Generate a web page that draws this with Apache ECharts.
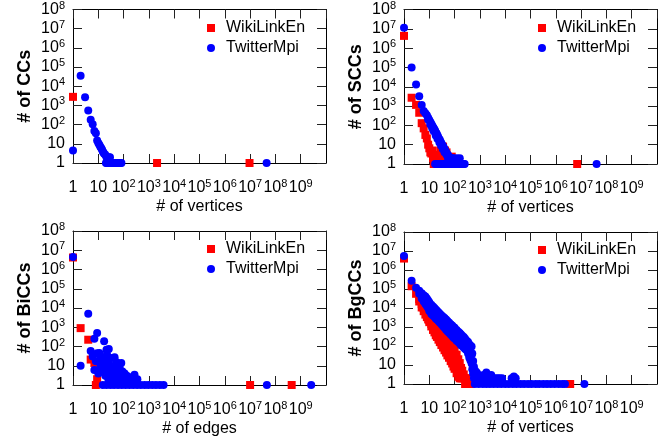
<!DOCTYPE html>
<html><head><meta charset="utf-8">
<script src="https://cdn.jsdelivr.net/npm/echarts@6/dist/echarts.min.js"></script>
<style>html,body{margin:0;padding:0;background:#fff}#c{width:670px;height:440px}</style>
</head><body><div id="c"></div>
<script>
// ---------- labels ----------
const seriesNames = ['WikiLinkEn', 'TwitterMpi'];
const xNames = ['# of vertices', '# of vertices', '# of edges', '# of vertices'];
const yNames = ['# of CCs', '# of SCCs', '# of BiCCs', '# of BgCCs'];
const xRange = [1, 1e10];
const yRange = [1, 1e8];

// ---------- panel 1: CCs ----------
const ccWiki = [[1,2800],[2100,1],[9.5e6,1]];
const ccTwitter = [[1,4.5],[2,35000],[3,2700],[4,550],[5,180],[6,106],[7,47],[8,35],[9,15],[10,11],[11,9],[12,7],[13,6],[14,5],[15,4],[16,3.5],[17,3],[19,2.7],[21,2],[23,2],[26,2],[29,2],
  [20,1],[22,1],[24,1],[27,1],[30,1],[34,1],[38,1],[43,1],[50,1],[57,1],[65,1],[75,1],[82,1],[4.5e7,1]];

// ---------- panel 2: SCCs ----------
const sccWiki = [[1,4.3e6],[2,2700],[3,1150],[4,450],[5,130],[6,70],[7,32],[8,21],[9,10],[10,6.5],[11,4],[12,3.5],[13,5],[14,2],[15,1],[16,1],[18,2],[20,3],[22,1],[25,2],[27,5],[30,1],[35,8],[42,5],[48,4],[40,2],[50,1],[60,1],[77,2.4],[90,1],[110,1],[140,1],[180,1],[7e6,1]];
const sccTwitter = [[1,1.15e7],[2,1e5],[3,1.3e4],[4,3200],[5,1150],[6,550],[7,430],[8,330],[9,250],[10,190],[11,150],[12,120],[13,100],[14,83],[15,70],[16,62],[17,52],[18,44],[19,39],[20,35],[22,27],[24,21],[26,18],[28,14],[30,12],[32,10],[35,8.5],[38,6.8],[41,5.6],[45,4.5],[50,3.5],[56,2.8],[63,2.2],[70,2],[80,2],[90,2],[120,2],[160,2],
  [9,200],[11,110],[13,70],[15,50],[18,30],[21,20],[25,13],[29,9],[34,6],[40,4],[48,3],[55,2],
  [17,1],[19,1],[21,1],[24,1],[27,1],[30,1],[34,1],[38,1],[43,1],[48,1],[55,1],[62,1],[70,1],[80,1],[90,1],[100,1],[115,1],[130,1],[150,1],[170,1],[200,1],[230,1],[250,1],[4.1e7,1]];

// ---------- panel 3: BiCCs ----------
const biccWiki = [[1,4.2e6],[2,900],[4,225],[5,21],[7,14],[9,2],[8,1],[1e7,1],[4.4e8,1]];
const biccTwitter = [[1,4.5e6],[2,10],[4,5000],[5,58],[6,30],[7,250],[7,6],[8,17],[9,500],[9,45],[10,4],[11,46],[12,31],[12,8],[13,12],[14,20],[15,5],[16,10],[17,185],[18,14],[19,3],[20,8],[21,6],[21,68],[22,40],[23,4],[24,18],[25,2],[26,74],[27,12],[28,5],[30,3],[32,9],[33,6],[35,25],[36,2],[38,4],[40,7],[42,3],[44,28],[46,10],[48,2],[50,5],[53,15],[56,3],[60,8],[63,2],[66,4],[70,7.6],[75,3],[81,14],[85,2],[90,5],[95,3],[100,2],[110,4],[120,2],[130,3],[148,2.8],[160,2],[200,2],[270,3.4],[350,2],
  [15,1],[21,1],[30,1],[42,1],[60,1],[85,1],[120,1],[170,1],[240,1],[340,1],[480,1],[680,1],[950,1],[1350,1],[1900,1],[2700,1],[3800,1],[4.6e7,1],[2.6e9,1]];

// ---------- panel 4: BgCCs ----------
const bgWiki = [[1,4e6],[2,1.4e5],[3,5.6e4],[4,2.2e4],[4,3e4],[5,1.07e4],[5,1.6e4],[6,6800],[6,1e4],[7,4500],[7,7000],[8,3300],[8,5000],[9,2500],[9,3700],
  [10,1800],[10,2250],[10,2800],[12,1070],[12,1450],[12,2000],[14,700],[14,1000],[14,1500],[16,520],[16,800],[16,1260],[18,370],[18,600],[18,1000],
  [20,300],[20,500],[20,850],[23,215],[23,390],[23,700],[26,160],[26,300],[26,575],[30,112],[30,230],[30,470],[35,83],[35,180],[35,380],
  [40,60],[40,140],[40,316],[46,45],[46,105],[46,250],[52,32],[52,80],[52,210],[60,24],[60,40],[60,80],[60,165],[70,16],[70,30],[70,60],[70,125],
  [80,12],[80,22],[80,45],[80,100],[90,8.3],[90,17],[90,35],[90,75],[100,6.3],[100,13],[100,28],[100,60],[120,3.7],[120,8],[120,16],[120,35],
  [140,2.4],[140,5],[140,10],[140,20],[160,2],[160,3.5],[160,6.5],[160,12.6],[180,2],[180,3],[180,4.5],[180,7],[200,2],[200,3],[200,5],[230,2],[230,3.2],
  [260,1],[260,2],[300,1],[300,2],[340,1],[400,1],[3.7e6,1]];
const bgTwitter = [[1,5.4e6],[2,2.7e5],[3,1.15e5],[4,8e4],[4,5.6e4],[5,6e4],[5,3.2e4],[6,4.7e4],[6,2.2e4],[7,4e4],[7,1.6e4],[8,3.2e4],[8,1.26e4],[9,2.5e4],[9,1e4],
  [10,2e4],[10,1.2e4],[10,7000],[12,1.5e4],[12,8500],[12,4900],[14,1.2e4],[14,7000],[14,4000],[16,1e4],[16,6000],[16,3500],[18,8300],[18,4800],[18,2800],
  [20,7200],[20,4200],[20,2500],[23,6000],[23,3500],[23,2100],[26,5000],[26,2900],[26,1700],[30,4200],[30,2400],[30,1400],[35,3500],[35,2000],[35,1100],
  [40,3000],[40,1650],[40,900],[46,2500],[46,1350],[46,720],[52,2100],[52,1100],[52,600],[60,1700],[60,920],[60,500],[70,1400],[70,750],[70,400],
  [80,1200],[80,640],[80,340],[90,1000],[90,530],[90,280],[100,900],[100,470],[100,250],[120,700],[120,370],[120,190],[140,560],[140,300],[140,160],
  [160,480],[160,250],[160,135],[180,400],[180,210],[180,110],[200,350],[200,185],[200,100],[230,300],[230,160],[230,83],[260,240],[260,130],[260,70],
  [300,190],[300,105],[300,60],[340,160],[340,80],[340,40],[380,125],[380,55],[380,25],[420,107],[420,45],[420,18],[470,95],[470,35],[470,12],
  [500,40],[500,15],[500,6],[540,16],[540,8],[540,3.6],[580,8],[580,2],
  [650,5],[750,4],[700,3],[800,2],[900,3],[1000,2],[1200,2],[1400,3],[1600,2],[1800,4],[2000,2],[2400,2],[2800,3],[3300,2],[4000,2],[5000,2],[6000,2],[7500,2],[1.8e4,2],[2.2e4,2.5],[2.6e4,2],
  [630,1],[900,1],[1300,1],[1800,1],[2500,1],[3500,1],[5000,1],[7000,1],[1e4,1],[1.4e4,1],[2e4,1],[2.8e4,1],[4e4,1],[5.6e4,1],[8e4,1],[1.1e5,1],[1.6e5,1],[2.2e5,1],[3.2e5,1],[4.5e5,1],[6.3e5,1],[9e5,1],[1.3e6,1],[1.8e6,1],[2.3e6,1],[1.35e7,1]];

const panelData = [[ccWiki, ccTwitter], [sccWiki, sccTwitter], [biccWiki, biccTwitter], [bgWiki, bgTwitter]];

// ---------- layout ----------
const FONT = '"Liberation Sans", Arial, Helvetica, sans-serif';
const grids = [
  {left: 73, top: 9, width: 253, height: 154},
  {left: 404, top: 9, width: 253, height: 155},
  {left: 73, top: 231, width: 253, height: 154},
  {left: 404, top: 232, width: 253, height: 152}
];
const legendPos = [[207, 20], [538, 20], [207, 241], [538, 242]];

function expOf(v) { return Math.round(Math.log10(v)); }
function tickFmt(v) { const e = expOf(v); if (e === 0) return '1'; if (e === 1) return '10'; return '10{s|' + e + '}'; }

const rich = {
  s: {fontSize: 11, padding: [0, 0, 8, 0], fontFamily: FONT, color: '#000'}
};

const xAxis = [], yAxis = [], series = [], legend = [];
grids.forEach((g, i) => {
  const mk = (o) => Object.assign({type: 'log', gridIndex: i, interval: 1,
    axisLine: {show: true, lineStyle: {color: '#000', width: 1}},
    axisTick: {show: true, inside: true, length: 9, lineStyle: {color: '#222', width: 1}},
    splitLine: {show: false}}, o);
  xAxis.push(mk({min: xRange[0], max: xRange[1], position: 'bottom',
    axisLabel: {formatter: tickFmt, margin: 15, fontSize: 16, lineHeight: 20, color: '#000', fontFamily: FONT, showMinLabel: true, showMaxLabel: false, rich},
    name: xNames[i], nameLocation: 'middle', nameGap: 36,
    nameTextStyle: {fontSize: 16, color: '#000', fontFamily: FONT}}));
  xAxis.push(mk({min: xRange[0], max: xRange[1], position: 'top', axisLabel: {show: false}}));
  yAxis.push(mk({min: yRange[0], max: yRange[1], position: 'left',
    axisLabel: {formatter: tickFmt, margin: 8, fontSize: 16, lineHeight: 16, color: '#000', fontFamily: FONT, showMinLabel: true, showMaxLabel: true, rich},
    name: yNames[i], nameLocation: 'middle', nameGap: 39,
    nameTextStyle: {fontSize: 18, fontWeight: 'bold', color: '#000', fontFamily: FONT}}));
  yAxis.push(mk({min: yRange[0], max: yRange[1], position: 'right', axisLabel: {show: false}}));

  series.push({type: 'scatter', name: seriesNames[0], xAxisIndex: 2 * i, yAxisIndex: 2 * i, data: panelData[i][0],
    symbol: 'rect', symbolSize: 8, itemStyle: {color: '#ff0000', opacity: 1}, clip: false, z: 2});
  series.push({type: 'scatter', name: seriesNames[1], xAxisIndex: 2 * i, yAxisIndex: 2 * i, data: panelData[i][1],
    symbol: 'circle', symbolSize: 8, itemStyle: {color: '#0000ff', opacity: 1}, clip: false, z: 3});

  legend.push({left: legendPos[i][0], top: legendPos[i][1], orient: 'vertical', itemWidth: 8, itemHeight: 8, itemGap: 4,
    selectedMode: false, padding: 0,
    textStyle: {fontSize: 16, lineHeight: 16, color: '#000', fontFamily: FONT, padding: [0, 0, 0, 6]},
    data: [{name: seriesNames[0], icon: 'rect'}, {name: seriesNames[1], icon: 'circle'}]});
});

const chart = echarts.init(document.getElementById('c'), null, {renderer: 'canvas'});
chart.setOption({
  animation: false,
  backgroundColor: '#fff',
  grid: grids,
  xAxis, yAxis, series, legend
});
</script>
</body></html>
